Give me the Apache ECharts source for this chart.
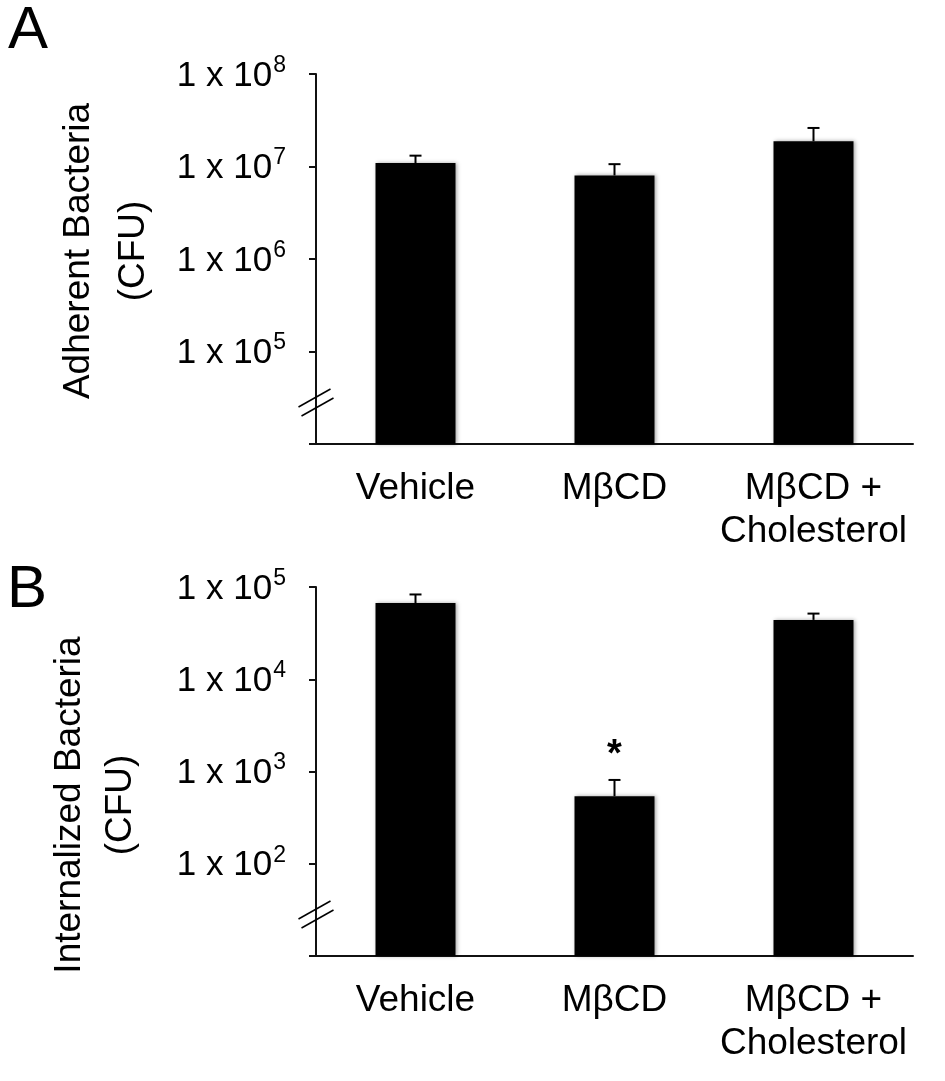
<!DOCTYPE html>
<html lang="en">
<head>
    <meta charset="UTF-8">
    <title>Adherent and internalized bacteria</title>
    <script type="text/javascript" src="https://cdnjs.cloudflare.com/ajax/libs/echarts/6.0.0/echarts.min.js"></script>
    <style>
        html, body { margin: 0; padding: 0; background: #fff; }
    </style>
</head>
<body>
    <div id="main" style="width: 945px; height: 1081px"></div>
    <script type="text/javascript">
        // values (CFU)
        var categories = ['Vehicle', 'MβCD', 'MβCD +\nCholesterol'];
        var adherentMean = [1.09e7, 8.0e6, 1.87e7];
        var adherentUpper = [1.31e7, 1.06e7, 2.61e7];
        var internalMean = [6.7e4, 5.4e2, 4.4e4];
        var internalUpper = [8.3e4, 8.1e2, 5.15e4];
        var internalMarks = ['', '*', ''];
        var adherentMarks = ['', '', ''];

        var FONT = 'Liberation Sans, Arial, sans-serif';
        var gridA = { left: 316, top: 74, width: 597, height: 370 };
        var gridB = { left: 316, top: 587, width: 597, height: 369 };

        var myChart = echarts.init(document.getElementById('main'));

        function tickLabel(minExp) {
            return function (v) {
                var e = Math.round(Math.log10(v));
                if (e === minExp) return '';
                return '{n|1 x 10}{s|' + e + '}';
            };
        }

        function yAxis(gridIndex, min, max, name, nameGap, lineHeight, pad) {
            return {
                type: 'log',
                logBase: 10,
                gridIndex: gridIndex,
                min: min,
                max: max,
                name: name,
                nameLocation: 'middle',
                nameGap: nameGap,
                nameTextStyle: {
                    fontFamily: FONT,
                    fontSize: 37,
                    color: '#000',
                    lineHeight: lineHeight,
                    padding: pad
                },
                axisLine: { show: true, lineStyle: { color: '#111', width: 2 } },
                axisTick: { show: true, length: 7, lineStyle: { color: '#111', width: 2 } },
                splitLine: { show: false },
                minorTick: { show: false },
                axisLabel: {
                    margin: 30,
                    formatter: tickLabel(Math.round(Math.log10(min))),
                    rich: {
                        n: { fontFamily: FONT, fontSize: 35, lineHeight: 40, color: '#000', padding: [4, 0, 0, 0] },
                        s: { fontFamily: FONT, fontSize: 23, lineHeight: 22, color: '#000',
                             verticalAlign: 'top', padding: [0, 0, 0, 1] }
                    }
                }
            };
        }

        function xAxis(gridIndex) {
            return {
                type: 'category',
                gridIndex: gridIndex,
                data: categories,
                axisLine: { lineStyle: { color: '#111', width: 2 } },
                axisTick: { length: 6, lineStyle: { color: '#111', width: 2 } },
                axisLabel: {
                    margin: 23,
                    fontFamily: FONT,
                    fontSize: 37,
                    lineHeight: 43,
                    color: '#000',
                    interval: 0
                }
            };
        }

        function barSeries(axisIndex, values) {
            return {
                type: 'bar',
                xAxisIndex: axisIndex,
                yAxisIndex: axisIndex,
                data: values,
                barWidth: 80,
                clip: true,
                itemStyle: {
                    color: '#000',
                    shadowBlur: 4,
                    shadowColor: 'rgba(0,0,0,0.35)',
                    shadowOffsetX: 1
                },
                silent: true
            };
        }

        function errorSeries(axisIndex, means, uppers, marks) {
            return {
                type: 'custom',
                xAxisIndex: axisIndex,
                yAxisIndex: axisIndex,
                data: means.map(function (m, i) { return [i, m, uppers[i]]; }),
                z: 5,
                renderItem: function (params, api) {
                    var base = api.coord([api.value(0), api.value(1)]);
                    var top = api.coord([api.value(0), api.value(2)]);
                    var style = { stroke: '#000', lineWidth: 2 };
                    var children = [
                        { type: 'line', shape: { x1: base[0], y1: base[1], x2: top[0], y2: top[1] }, style: style },
                        { type: 'line', shape: { x1: top[0] - 6, y1: top[1], x2: top[0] + 6, y2: top[1] }, style: style }
                    ];
                    var mark = marks[params.dataIndex];
                    if (mark) {
                        children.push({
                            type: 'text',
                            x: top[0],
                            y: top[1] - 24,
                            style: {
                                text: mark,
                                fontFamily: FONT,
                                fontSize: 38,
                                fontWeight: 'bold',
                                fill: '#000',
                                align: 'center',
                                verticalAlign: 'middle'
                            }
                        });
                    }
                    return { type: 'group', children: children };
                }
            };
        }

        // axis break marks: two short slanted strokes across each y axis
        function breakMarks(g) {
            var x = g.left;
            var yb = g.top + g.height;
            return [-46, -37].map(function (dy, k) {
                var cx = x - 1.5 + k * 3;
                return {
                    type: 'line',
                    shape: { x1: cx - 16, y1: yb + dy + 9, x2: cx + 16, y2: yb + dy - 9 },
                    style: { stroke: '#000', lineWidth: 1.5 },
                    z: 10
                };
            });
        }

        var panelStyle = { fontFamily: FONT, fontSize: 60, fontWeight: 'normal', color: '#000', lineHeight: 60 };

        myChart.setOption({
            animation: false,
            backgroundColor: '#fff',
            title: [
                { text: 'A', left: 8, top: 1, padding: 0, textStyle: panelStyle },
                { text: 'B', left: 7, top: 560, padding: 0, textStyle: panelStyle }
            ],
            grid: [gridA, gridB],
            xAxis: [xAxis(0), xAxis(1)],
            yAxis: [
                yAxis(0, 1e4, 1e8, 'Adherent Bacteria\n(CFU)', 155, 55, [0, 0, 0, 16]),
                yAxis(1, 1e1, 1e5, 'Internalized Bacteria\n(CFU)', 170, 51, [0, 67, 0, 0])
            ],
            series: [
                barSeries(0, adherentMean),
                errorSeries(0, adherentMean, adherentUpper, adherentMarks),
                barSeries(1, internalMean),
                errorSeries(1, internalMean, internalUpper, internalMarks)
            ],
            graphic: breakMarks(gridA).concat(breakMarks(gridB))
        });
    </script>
</body>
</html>
